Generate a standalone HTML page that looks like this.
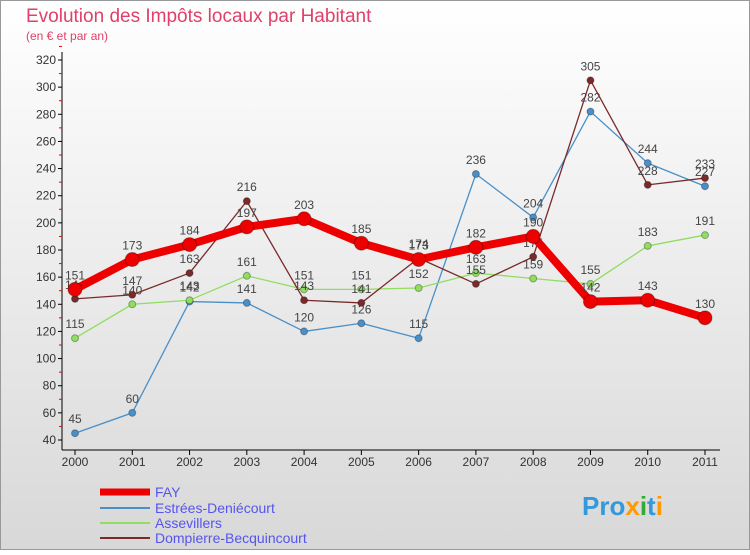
<!DOCTYPE html>
<html><head><meta charset="utf-8"><style>
body{margin:0;width:750px;height:550px;overflow:hidden;font-family:"Liberation Sans",sans-serif}
</style></head><body>
<svg width="750" height="550" xmlns="http://www.w3.org/2000/svg">
<defs><linearGradient id="bg" x1="0" y1="0" x2="0" y2="1"><stop offset="0" stop-color="#ffffff"/><stop offset="1" stop-color="#d8d8d8"/></linearGradient></defs>
<rect x="0.5" y="0.5" width="749" height="549" fill="url(#bg)" stroke="#999"/>
<text x="26" y="22" font-size="19" fill="#e0406a">Evolution des Impôts locaux par Habitant</text>
<text x="26" y="40" font-size="12" fill="#e0406a">(en € et par an)</text>
<g id="axes"></g><g id="series"></g>
<g font-size="14">
<line x1="100" y1="492" x2="150" y2="492" stroke="#e00" stroke-width="7"/>
<text x="155" y="497" fill="#5555ee">FAY</text>
<line x1="100" y1="508" x2="150" y2="508" stroke="#4a90c8" stroke-width="2"/>
<text x="155" y="513" fill="#5555ee">Estrées-Deniécourt</text>
<line x1="100" y1="523" x2="150" y2="523" stroke="#90dd60" stroke-width="2"/>
<text x="155" y="528" fill="#5555ee">Assevillers</text>
<line x1="100" y1="538" x2="150" y2="538" stroke="#7a2a2a" stroke-width="2"/>
<text x="155" y="543" fill="#5555ee">Dompierre-Becquincourt</text>
</g>
<text x="582" y="515" font-size="26" font-weight="bold" fill="#3399dd">Pro<tspan fill="#ff9900">x</tspan><tspan fill="#33aa33">i</tspan>t<tspan fill="#ff9900">i</tspan></text>
</svg>
<script>
const years=["2000","2001","2002","2003","2004","2005","2006","2007","2008","2009","2010","2011"];
const yTicks=[40,60,80,100,120,140,160,180,200,220,240,260,280,300,320];
const fay=[151,173,184,197,203,185,173,182,190,142,143,130];
const estrees=[45,60,142,141,120,126,115,236,204,282,244,227];
const assevillers=[115,140,143,161,151,151,152,163,159,155,183,191];
const dompierre=[144,147,163,216,143,141,174,155,175,305,228,233];
const NS="http://www.w3.org/2000/svg";
const xs=i=>75+i*(630/11);
const ys=v=>440-(v-40)*(380/280);
function mk(tag,attrs,parent){const e=document.createElementNS(NS,tag);for(const k in attrs)e.setAttribute(k,attrs[k]);parent.appendChild(e);return e;}
const ax=document.getElementById('axes');
let a=mk('line',{x1:62,y1:52,x2:62,y2:450,stroke:'#000'},ax);


a=mk('line',{x1:62,y1:450,x2:720,y2:450,stroke:'#000'},ax);


yTicks.forEach(v=>{
 mk('line',{x1:58,y1:ys(v),x2:62,y2:ys(v),stroke:'#000'},ax);
 mk('line',{x1:59,y1:ys(v+10),x2:62,y2:ys(v+10),stroke:'#e00'},ax);
 const t=mk('text',{x:56,y:ys(v)+4,'text-anchor':'end','font-size':12,fill:'#333'},ax);t.textContent=v;
 
 
});
years.forEach((y,i)=>{
 mk('line',{x1:xs(i),y1:450,x2:xs(i),y2:455,stroke:'#000'},ax);
 const t=mk('text',{x:xs(i),y:466,'text-anchor':'middle','font-size':12,fill:'#333'},ax);t.textContent=y;
 
 
});
const sg=document.getElementById('series');
function draw(name,data,color,w,r){
 const g=mk('g',{},sg);
 
 
 const p=mk('polyline',{points:data.map((v,i)=>xs(i)+','+ys(v)).join(' '),fill:'none',stroke:color,'stroke-width':w,'stroke-linejoin':'round'},g);
 
 
 data.forEach((v,i)=>{
  const c=mk('circle',{cx:xs(i),cy:ys(v),r:r,fill:color,stroke:'rgba(0,0,0,0.3)'},g);
  
  
  const t=mk('text',{x:xs(i),y:ys(v)-10,'text-anchor':'middle','font-size':12,fill:'#444'},g);t.textContent=v;
  
  
 });
}
draw('estrees',estrees,'#4a90c8',1.3,3.5);
draw('assevillers',assevillers,'#90dd60',1.3,3.5);
draw('dompierre',dompierre,'#7a2a2a',1.3,3.5);
draw('fay',fay,'#ee0000',8,7);
</script>
</body></html>
